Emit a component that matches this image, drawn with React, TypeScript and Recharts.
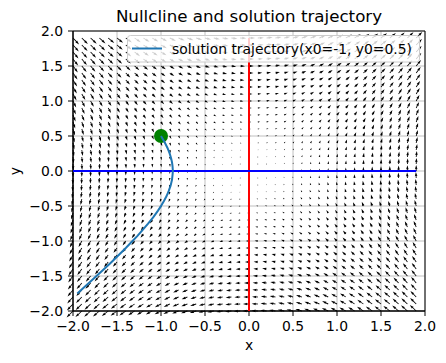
import React from 'react';
import { ScatterChart, Scatter, XAxis, YAxis, CartesianGrid, ReferenceArea } from 'recharts';

// quiver grid (np.arange(-2, 2, 0.1) on both axes)
const gridX = [-2.0, -1.9, -1.8, -1.7, -1.6, -1.5, -1.4, -1.3, -1.2, -1.1, -1.0, -0.9, -0.8, -0.7, -0.6, -0.5, -0.4, -0.3, -0.2, -0.1,
  0.0, 0.1, 0.2, 0.3, 0.4, 0.5, 0.6, 0.7, 0.8, 0.9, 1.0, 1.1, 1.2, 1.3, 1.4, 1.5, 1.6, 1.7, 1.8, 1.9];
const gridY = [-2.0, -1.9, -1.8, -1.7, -1.6, -1.5, -1.4, -1.3, -1.2, -1.1, -1.0, -0.9, -0.8, -0.7, -0.6, -0.5, -0.4, -0.3, -0.2, -0.1,
  0.0, 0.1, 0.2, 0.3, 0.4, 0.5, 0.6, 0.7, 0.8, 0.9, 1.0, 1.1, 1.2, 1.3, 1.4, 1.5, 1.6, 1.7, 1.8, 1.9];
// horizontal arrow component for each row, vertical component for each column
const uByRow = [-2.0, -1.9, -1.8, -1.7, -1.6, -1.5, -1.4, -1.3, -1.2, -1.1, -1.0, -0.9, -0.8, -0.7, -0.6, -0.5, -0.4, -0.3, -0.2, -0.1,
  0.0, 0.1, 0.2, 0.3, 0.4, 0.5, 0.6, 0.7, 0.8, 0.9, 1.0, 1.1, 1.2, 1.3, 1.4, 1.5, 1.6, 1.7, 1.8, 1.9];
const vByCol = [-2.0, -1.9, -1.8, -1.7, -1.6, -1.5, -1.4, -1.3, -1.2, -1.1, -1.0, -0.9, -0.8, -0.7, -0.6, -0.5, -0.4, -0.3, -0.2, -0.1,
  0.0, 0.1, 0.2, 0.3, 0.4, 0.5, 0.6, 0.7, 0.8, 0.9, 1.0, 1.1, 1.2, 1.3, 1.4, 1.5, 1.6, 1.7, 1.8, 1.9];

// nullclines
const redNullcline = [{ x: 0, y: -2 }, { x: 0, y: 1.9 }];
const blueNullcline = [{ x: -2, y: 0 }, { x: 1.9, y: 0 }];

// solution trajectory
const trajX = [-1.0, -0.957, -0.925, -0.902, -0.886, -0.875, -0.869, -0.866, -0.867, -0.875, -0.891, -0.913, -0.938, -0.968, -1.0,
  -1.034, -1.089, -1.147, -1.208, -1.27, -1.335, -1.4, -1.489, -1.579, -1.671, -1.764, -1.857, -1.951];
const trajY = [0.5, 0.407, 0.325, 0.252, 0.186, 0.125, 0.069, 0.016, -0.033, -0.125, -0.209, -0.288, -0.362, -0.432, -0.5,
  -0.566, -0.661, -0.753, -0.842, -0.93, -1.015, -1.1, -1.211, -1.321, -1.429, -1.536, -1.643, -1.749];
const startPoint = [{ x: -1, y: 0.5 }];

const ticks = [-2.0, -1.5, -1.0, -0.5, 0.0, 0.5, 1.0, 1.5, 2.0];

const FONT = 'DejaVu Sans, sans-serif';
const fmt = (v: number) => v.toFixed(1).replace('-', '\u2212');

const quiverData = gridY.flatMap((gy, i) => gridX.map((gx, j) => ({ x: gx, y: gy, u: uByRow[i], v: vByCol[j] })));
const trajData = trajX.map((x, i) => ({ x, y: trajY[i] }));

const PX_PER_UNIT = 3.2;
const W = 0.85;

const Arrow = (props: any) => {
  const { cx, cy, payload } = props;
  if (cx == null || cy == null) return null;
  const mag = Math.hypot(payload.u, payload.v);
  const L = mag * PX_PER_UNIT;
  if (L < W) return <circle cx={cx} cy={cy} r={W / 2} fill="#000" />;
  const angle = (-Math.atan2(payload.v, payload.u) * 180) / Math.PI;
  let len = L;
  let s = 1;
  if (L < 5 * W) {
    len = 5 * W;
    s = L / (5 * W);
  }
  const pts = [
    [0, -W / 2], [len - 4.5 * W, -W / 2], [len - 5 * W, -1.5 * W], [len, 0],
    [len - 5 * W, 1.5 * W], [len - 4.5 * W, W / 2], [0, W / 2],
  ].map(([a, b]) => `${a * s},${b * s}`).join(' ');
  return <polygon points={pts} fill="#000" transform={`translate(${cx},${cy}) rotate(${angle})`} />;
};

const noDot = () => null;

export default function App() {
  return (
    <div style={{ position: 'absolute', left: 0, top: 0, width: 446, height: 363, background: '#fff', fontFamily: FONT }}>
      <ScatterChart width={446} height={363} margin={{ top: 31, right: 21, bottom: 0, left: 0 }}>
        <CartesianGrid stroke="#b0b0b0" strokeWidth={0.8} horizontalValues={ticks} verticalValues={ticks} />
        <XAxis type="number" dataKey="x" domain={[-2, 2]} ticks={ticks} tickFormatter={fmt} height={52}
          tickSize={5} tickMargin={5} stroke="#000" tick={{ fill: '#000', fontSize: 13.9, fontFamily: FONT }} />
        <YAxis type="number" dataKey="y" domain={[-2, 2]} ticks={ticks} tickFormatter={fmt} width={73}
          tickSize={5} tickMargin={5} stroke="#000" tick={{ fill: '#000', fontSize: 13.9, fontFamily: FONT }} />
        <Scatter data={quiverData} shape={Arrow} isAnimationActive={false} />
        <Scatter data={redNullcline} line={{ stroke: '#ff0000', strokeWidth: 2 }} shape={noDot} isAnimationActive={false} />
        <Scatter data={blueNullcline} line={{ stroke: '#0000ff', strokeWidth: 2 }} shape={noDot} isAnimationActive={false} />
        <Scatter data={startPoint} fill="#008000" shape={(p: any) => <circle cx={p.cx} cy={p.cy} r={7} fill="#008000" />} isAnimationActive={false} />
        <Scatter data={trajData} line={{ stroke: '#1f77b4', strokeWidth: 2 }} shape={noDot} isAnimationActive={false} />
        <ReferenceArea x1={-2} x2={2} y1={-2} y2={2} fill="none" stroke="#000" strokeWidth={1} />
      </ScatterChart>
      <svg width={446} height={363} style={{ position: 'absolute', left: 0, top: 0, pointerEvents: 'none' }}>
        <text x={249} y={22} textAnchor="middle" fontSize={16.7} fontFamily={FONT} fill="#000">Nullcline and solution trajectory</text>
        <text x={249} y={350} textAnchor="middle" fontSize={13.9} fontFamily={FONT} fill="#000">x</text>
        <text x={19.5} y={171} textAnchor="middle" fontSize={13.9} fontFamily={FONT} fill="#000" transform="rotate(-90, 19.5, 171)">y</text>
        <rect x={127.5} y={35.5} width={292} height={26.5} rx={3} fill="#fff" fillOpacity={0.8} stroke="#cccccc" />
        <line x1={132} y1={48.5} x2={162} y2={48.5} stroke="#1f77b4" strokeWidth={2} />
        <text x={172} y={53.5} fontSize={13.9} fontFamily={FONT} fill="#000">solution trajectory(x0=-1, y0=0.5)</text>
      </svg>
    </div>
  );
}
